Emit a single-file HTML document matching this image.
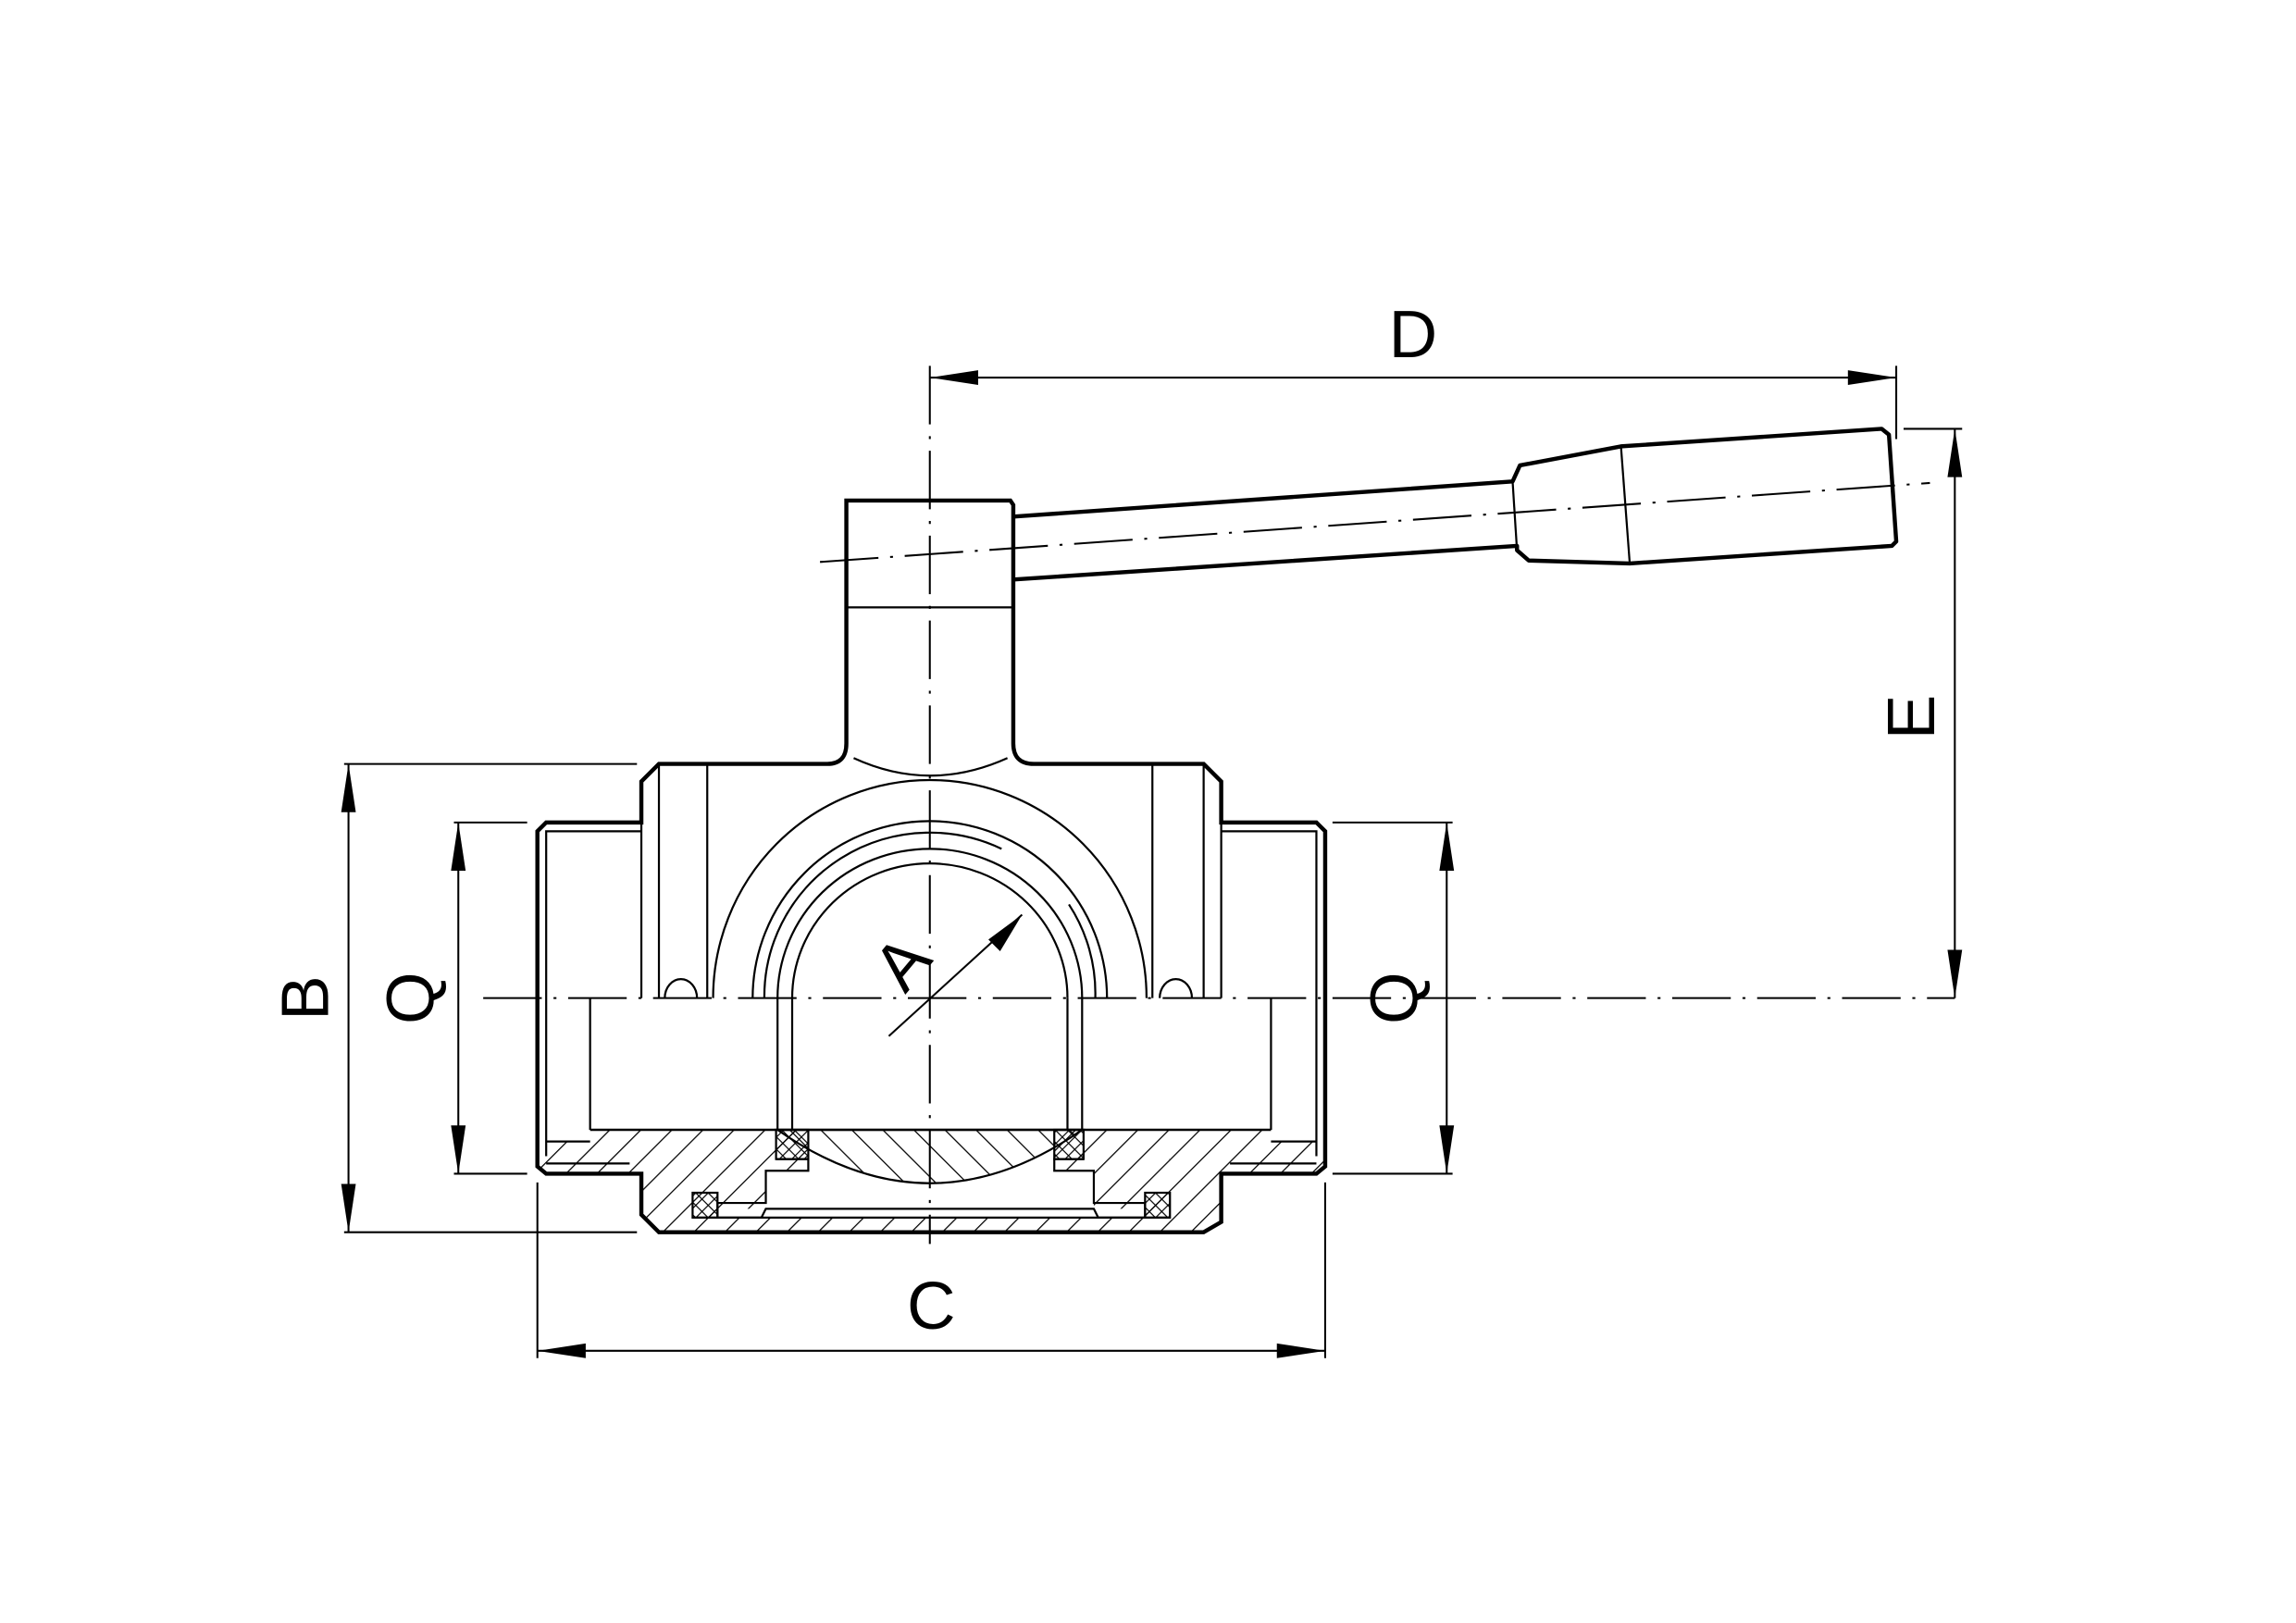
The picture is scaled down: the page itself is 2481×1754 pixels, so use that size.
<!DOCTYPE html>
<html><head><meta charset="utf-8"><style>html,body{margin:0;padding:0;background:#fff}svg{display:block}</style></head>
<body>
<svg width="2481" height="1754" viewBox="0 0 1568 1109" preserveAspectRatio="none" xmlns="http://www.w3.org/2000/svg" font-family="Liberation Sans, sans-serif">
<defs>
<pattern id="h1" width="15" height="15" patternUnits="userSpaceOnUse" patternTransform="rotate(45)"><line x1="0" y1="0" x2="0" y2="15" stroke="#000" stroke-width="1.6"/></pattern>
<pattern id="h2" width="15" height="15" patternUnits="userSpaceOnUse" patternTransform="rotate(-45)"><line x1="0" y1="0" x2="0" y2="15" stroke="#000" stroke-width="1.6"/></pattern>
<pattern id="hx" width="6" height="6" patternUnits="userSpaceOnUse" patternTransform="rotate(45)"><line x1="0" y1="0" x2="0" y2="6" stroke="#000" stroke-width="1.5"/><line x1="0" y1="0" x2="6" y2="0" stroke="#000" stroke-width="1.5"/></pattern>
</defs>
<rect width="1568" height="1109" fill="#fff"/>
<g fill="none" stroke="#000" stroke-linecap="butt">
<path d="M367,780 L403,780 L403,772 L868,772 L868,780 L905,780 L905,797 L899,802 L834,802 L834,835 L822,842 L450,842 L438,830 L438,802 L373,802 L367,797 Z" fill="url(#h1)" stroke="none"/>
<path d="M552,772 L720,772 L720,800 L747,800 L747,826 L523,826 L523,800 L552,800 Z" fill="#fff" stroke="none"/>
<path d="M531,772 Q635,845 739,772 Z" fill="url(#h2)" stroke="#000" stroke-width="1.4"/>
<path d="M490,826 L780,826 L780,832 L490,832 Z" fill="#fff" stroke="none"/>
<rect x="530" y="772" width="22" height="20" fill="url(#hx)" stroke="#000" stroke-width="1.4"/>
<rect x="720" y="772" width="20" height="20" fill="url(#hx)" stroke="#000" stroke-width="1.4"/>
<rect x="473" y="815" width="17" height="17" fill="url(#hx)" stroke="#000" stroke-width="1.4"/>
<rect x="782" y="815" width="17" height="17" fill="url(#hx)" stroke="#000" stroke-width="1.4"/>
<path d="M530,792 L552,792 L552,800 L523,800 L523,822 L490,822 L490,832 L520,832 L523,826 L747,826 L750,832 L782,832 L782,822 L747,822 L747,800 L720,800 L720,792 L740,792" stroke-width="1.4"/>
<line x1="473" y1="832" x2="799" y2="832" stroke-width="1.4"/>
<line x1="403" y1="772" x2="868" y2="772" stroke-width="1.6"/>
<line x1="373" y1="780" x2="403" y2="780" stroke-width="1.4"/>
<line x1="868" y1="780" x2="899" y2="780" stroke-width="1.4"/>
<line x1="373" y1="795" x2="430" y2="795" stroke-width="1.4"/>
<line x1="840" y1="795" x2="899" y2="795" stroke-width="1.4"/>

<path d="M367,568 L373,562 L438,562 L438,534 L450,522 L565,522 Q578,522 578,508 L578,342 L690,342 L692,345 L692,508 Q692,522 706,522 L822,522 L834,534 L834,562 L899,562 L905,568 L905,797 L899,802 L834,802 L834,835 L822,842 L450,842 L438,830 L438,802 L373,802 L367,797 Z" stroke-width="2.8"/>
<line x1="578" y1="415" x2="692" y2="415" stroke-width="1.4"/>
<path d="M583,518 Q635,542 688,518" stroke-width="1.4"/>
<path d="M373,790 L373,568 L438,568" stroke-width="1.4"/>
<path d="M899,790 L899,568 L834,568" stroke-width="1.4"/>
<line x1="403" y1="682" x2="403" y2="772" stroke-width="1.4"/>
<line x1="868" y1="682" x2="868" y2="772" stroke-width="1.4"/>
<line x1="438" y1="562" x2="438" y2="682" stroke-width="1.4"/>
<line x1="834" y1="562" x2="834" y2="682" stroke-width="1.4"/>
<line x1="450" y1="522" x2="450" y2="682" stroke-width="1.4"/>
<line x1="483" y1="522" x2="483" y2="682" stroke-width="1.4"/>
<line x1="787" y1="522" x2="787" y2="682" stroke-width="1.4"/>
<line x1="822" y1="522" x2="822" y2="682" stroke-width="1.4"/>
<path d="M454,682 A11,13 0 0 1 476,682" stroke-width="1.4"/>
<path d="M792,682 A11,13 0 0 1 814,682" stroke-width="1.4"/>
<path d="M487,682 A148,149 0 0 1 783,682" stroke-width="1.4"/>
<path d="M514,682 A121,121 0 0 1 756,682" stroke-width="1.4"/>
<path d="M522,682 A113,112 0 0 1 684,580" stroke-width="1.4"/>
<path d="M730,618 A113,112 0 0 1 748,682" stroke-width="1.4"/>
<path d="M531,682 A104,102 0 0 1 739,682" stroke-width="1.4"/>
<path d="M541,682 A94,92 0 0 1 729,682" stroke-width="1.4"/>
<line x1="531" y1="682" x2="531" y2="772" stroke-width="1.4"/>
<line x1="541" y1="682" x2="541" y2="772" stroke-width="1.4"/>
<line x1="729" y1="682" x2="729" y2="772" stroke-width="1.4"/>
<line x1="739" y1="682" x2="739" y2="772" stroke-width="1.4"/>

<path d="M692,353 L1033,329 L1038,318 L1107,305 L1285,293 L1290,297 L1295,370 L1292,373 L1113,385 L1044,383 L1036,376 L1036,373 L692,396" stroke-width="2.8" stroke-linejoin="round"/>
<line x1="1033" y1="329" x2="1036" y2="376" stroke-width="1.4"/>
<line x1="1107" y1="305" x2="1113" y2="385" stroke-width="1.4"/>
<line x1="692" y1="353" x2="692" y2="396" stroke-width="1.4"/>

<g stroke-width="1.3" stroke-dasharray="40,8,2,8">
<line x1="330" y1="682" x2="1335" y2="682"/>
<line x1="635" y1="250" x2="635" y2="850"/>
<line x1="560" y1="384" x2="1318" y2="330"/>
</g>

<g stroke-width="1.3">
<line x1="235" y1="522" x2="435" y2="522"/>
<line x1="235" y1="842" x2="435" y2="842"/>
<line x1="238" y1="522" x2="238" y2="842"/>
<line x1="310" y1="562" x2="360" y2="562"/>
<line x1="310" y1="802" x2="360" y2="802"/>
<line x1="313" y1="562" x2="313" y2="802"/>
<line x1="910" y1="562" x2="992" y2="562"/>
<line x1="910" y1="802" x2="992" y2="802"/>
<line x1="988" y1="562" x2="988" y2="802"/>
<line x1="367" y1="808" x2="367" y2="928"/>
<line x1="905" y1="808" x2="905" y2="928"/>
<line x1="367" y1="923" x2="905" y2="923"/>
<line x1="635" y1="258" x2="1295" y2="258"/>
<line x1="1295" y1="250" x2="1295" y2="300"/>
<line x1="1300" y1="293" x2="1340" y2="293"/>
<line x1="1335" y1="293" x2="1335" y2="682"/>
<line x1="607" y1="708" x2="698" y2="625"/>
</g>
</g>
<g fill="#000">
<path d="M238,522 L233,555 L243,555 Z"/><path d="M238,842 L233,809 L243,809 Z"/>
<path d="M313,562 L308,595 L318,595 Z"/><path d="M313,802 L308,769 L318,769 Z"/>
<path d="M988,562 L983,595 L993,595 Z"/><path d="M988,802 L983,769 L993,769 Z"/>
<path d="M367,923 L400,918 L400,928 Z"/><path d="M905,923 L872,918 L872,928 Z"/>
<path d="M635,258 L668,253 L668,263 Z"/><path d="M1295,258 L1262,253 L1262,263 Z"/>
<path d="M1335,293 L1330,326 L1340,326 Z"/><path d="M1335,682 L1330,649 L1340,649 Z"/>
<path d="M698,625 L675,642 L683,650 Z"/>
</g>
<g font-size="46" fill="#000" text-anchor="middle">
<text x="965" y="244">D</text>
<text x="636" y="908">C</text>
<text transform="translate(224,682) rotate(-90)">B</text>
<text transform="translate(296,682) rotate(-90)">Q</text>
<text transform="translate(968,682) rotate(-90)">Q</text>
<text transform="translate(1321,490) rotate(-90)">E</text>
<text transform="translate(628,668) rotate(-50)">A</text>
</g>
</svg>
</body></html>
